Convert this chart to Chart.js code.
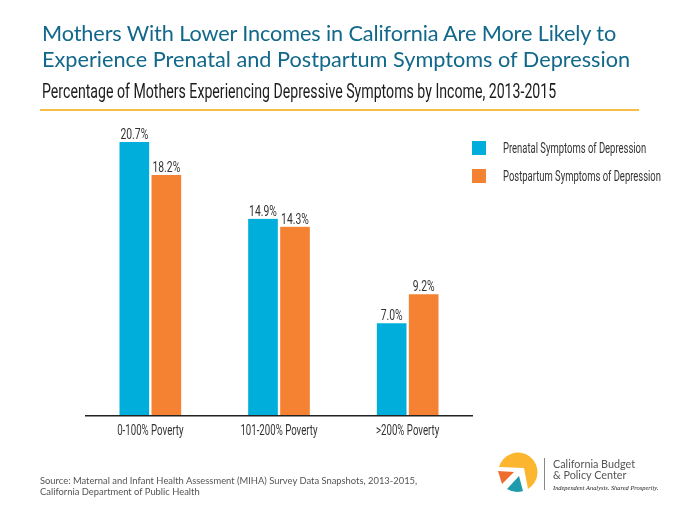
<!DOCTYPE html>
<html>
<head>
<meta charset="utf-8">
<title>Mothers With Lower Incomes in California</title>
<script src="https://cdn.jsdelivr.net/npm/chart.js@4"></script>
<style>
  html, body { margin: 0; padding: 0; background: #fff; }
  #page { position: relative; width: 680px; height: 510px; overflow: hidden; }
  #page div { position: absolute; white-space: nowrap; }
  #chart { position: absolute; left: 0; top: 0; }
  .title { left: 42px; font: 400 21.7px/28px Lato, sans-serif; color: #11688a; }
  .subtitle { left: 42px; top: 79px; font: 400 20px/24px Roboto, sans-serif; color: #1c1c1c; transform: scaleX(0.707); transform-origin: left top; }
  .rule { left: 40px; top: 109px; width: 599px; height: 2px; background: #f6bd47; }
  .source { left: 40px; font: 400 9.4px/12px Lato, sans-serif; color: #555; }
  .swatch { left: 472px; width: 14px; height: 14px; }
  .legend-text { left: 503px; font: 400 14px/16px Roboto, sans-serif; color: #333; transform: scaleX(0.675); transform-origin: left top; }
</style>
</head>
<body>
<div id="page">
  <canvas id="chart" width="680" height="510"></canvas>
  <div class="title" style="top:19px;letter-spacing:-0.12px">Mothers With Lower Incomes in California Are More Likely to</div>
  <div class="title" style="top:45px">Experience Prenatal and Postpartum Symptoms of Depression</div>
  <div class="subtitle">Percentage of Mothers Experiencing Depressive Symptoms by Income, 2013-2015</div>
  <div class="rule"></div>
  <div id="legend"></div>
  <div class="source" style="top:475px">Source: Maternal and Infant Health Assessment (MIHA) Survey Data Snapshots, 2013-2015,</div>
  <div class="source" style="top:486px">California Department of Public Health</div>

  <!-- logo -->
  <svg style="position:absolute;left:490px;top:445px" width="190" height="55" viewBox="490 445 190 55">
    <path d="M499 467 A19.6 19.6 0 1 1 528 489 L524 468 Z" fill="#fbb52f"/>
    <path d="M498 471 L514 472 L502 484 Z" fill="#ee6c2d"/>
    <path d="M519 476 L523 491 A19.6 19.6 0 0 1 507 489 Z" fill="#1f9bab"/>
    <rect x="544" y="458" width="1" height="32" fill="#888"/>
    <text x="553" y="468" font-family="Lato" font-size="10.8" fill="#555">California Budget</text>
    <text x="553" y="479" font-family="Lato" font-size="10.8" fill="#555">&amp; Policy Center</text>
    <text x="553" y="490" font-family="Liberation Serif" font-style="italic" font-size="6.4" fill="#222">Independent Analysis. Shared Prosperity.</text>
  </svg>
</div>

<script>
// data
const categories = ["0-100% Poverty", "101-200% Poverty", ">200% Poverty"];
const prenatal = [20.7, 14.9, 7.0];
const postpartum = [18.2, 14.3, 9.2];
const seriesNames = ["Prenatal Symptoms of Depression", "Postpartum Symptoms of Depression"];
const seriesColors = ["#00aedb", "#f58233"];

// no condensed font is installed, so squeeze the text sideways
function narrowText(ctx, text, x, y, squeeze) {
  ctx.save();
  ctx.translate(x, y);
  ctx.scale(squeeze, 1);
  ctx.fillText(text, 0, 0);
  ctx.restore();
}

// value labels on top of the bars and category labels under the axis
const chartText = {
  id: "chartText",
  afterDatasetsDraw(chart) {
    const ctx = chart.ctx;
    ctx.save();
    ctx.font = "14px Roboto, sans-serif";
    ctx.fillStyle = "#333";
    ctx.textAlign = "center";
    ctx.textBaseline = "alphabetic";
    chart.data.datasets.forEach((ds, i) => {
      chart.getDatasetMeta(i).data.forEach((bar, j) => {
        narrowText(ctx, ds.data[j].toFixed(1) + "%", bar.x, bar.y - 3, 0.74);
      });
    });
    const xAxis = chart.scales.x;
    categories.forEach((label, i) => {
      narrowText(ctx, label, xAxis.getPixelForTick(i), xAxis.top + 19, 0.69);
    });
    ctx.restore();
  },
};

const chart = new Chart(document.getElementById("chart"), {
  type: "bar",
  data: {
    labels: categories,
    datasets: [
      { label: seriesNames[0], data: prenatal, backgroundColor: seriesColors[0] },
      { label: seriesNames[1], data: postpartum, backgroundColor: seriesColors[1] },
    ],
  },
  options: {
    responsive: false,
    animation: false,
    devicePixelRatio: 1,
    layout: { padding: { left: 86, right: 208, top: 85, bottom: 0 } },
    datasets: {
      bar: {
        barThickness: 32,
        borderColor: "#fff",
        borderWidth: { left: 1.5, right: 1.5, top: 0, bottom: 0 },
        borderSkipped: false,
      },
    },
    plugins: {
      legend: { display: false },
      tooltip: { enabled: false },
    },
    scales: {
      x: {
        grid: { display: false, drawTicks: false },
        border: { color: "#222", width: 1.5, z: 1 },
        ticks: { display: false },
        afterFit(axis) { axis.height = 94; },
      },
      y: { display: false, min: 0, max: 25 },
    },
  },
  plugins: [chartText],
});

// legend as html, taken from the chart's datasets
const legend = document.getElementById("legend");
chart.data.datasets.forEach((ds, i) => {
  const top = 141 + i * 28;
  legend.innerHTML += `<div class="swatch" style="top:${top}px;background:${ds.backgroundColor}"></div>` +
    `<div class="legend-text" style="top:${top - 1}px">${ds.label}</div>`;
});
</script>
</body>
</html>
